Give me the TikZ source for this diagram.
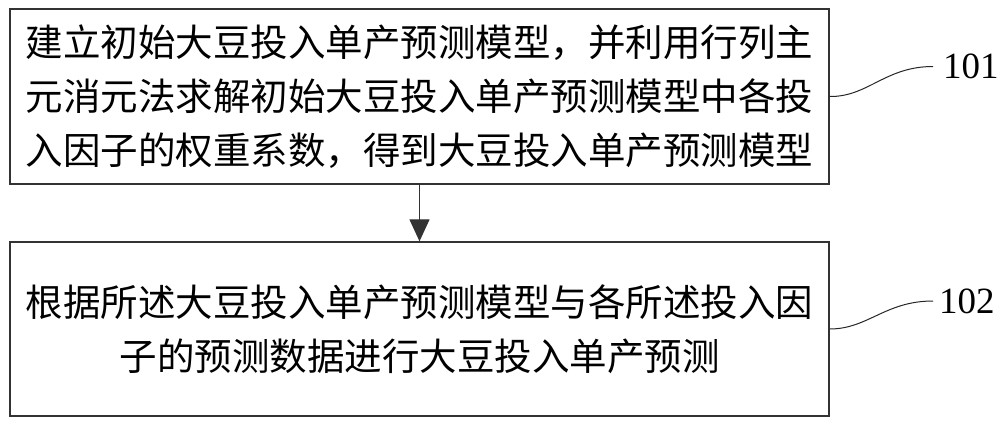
\documentclass[tikz,border=0pt]{standalone}
\usepackage{fontspec}
\newfontfamily\cjk{Noto Sans CJK SC}
\newfontfamily\numfont{Liberation Serif}
\usetikzlibrary{arrows.meta}
\begin{document}
\begin{tikzpicture}[x=1pt,y=-1pt,
  stepbox/.style={draw=black!80, line width=1.3pt, minimum width=819pt, inner sep=0pt,
    align=center, font=\cjk\fontsize{37.5}{54}\selectfont},
  lbl/.style={font=\numfont\fontsize{37}{40}\selectfont, inner sep=0pt, anchor=west},
  leader/.style={draw=black!85, line width=1pt},
  flow/.style={draw=black!80, line width=1.3pt, -{Triangle[width=20pt,length=22pt]}}]
\useasboundingbox (0,0) rectangle (1000,427);
\node[stepbox, minimum height=175pt] (b1) at (419.5,96.5)
  {建立初始大豆投入单产预测模型，并利用行列主\\元消元法求解初始大豆投入单产预测模型中各投\\入因子的权重系数，得到大豆投入单产预测模型};
\node[stepbox, minimum height=174pt] (b2) at (419.5,329)
  {根据所述大豆投入单产预测模型与各所述投入因\\子的预测数据进行大豆投入单产预测};
\node[lbl] (l1) at (943,66.5) {101};
\node[lbl] (l2) at (939,301) {102};
\coordinate (e1) at (933,66.5);
\coordinate (e2) at (933,301);
\draw[flow] (b1.south) -- (b2.north);
\draw[leader] (b1.east) .. controls (868,97) and (885,66.5) .. (e1);
\draw[leader] (b2.east) .. controls (868,329) and (885,301) .. (e2);
\end{tikzpicture}
\end{document}
